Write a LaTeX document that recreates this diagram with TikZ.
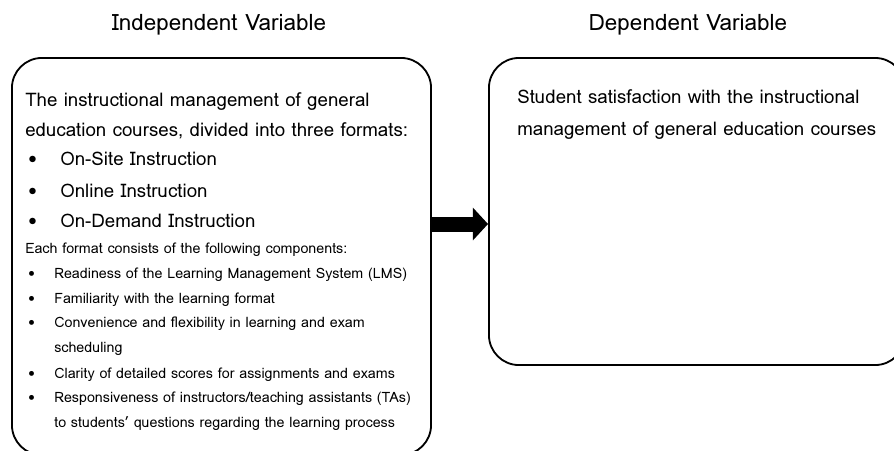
\documentclass[tikz,border=0pt]{standalone}
\usepackage{fontspec}
\setmainfont{Loma}
\usetikzlibrary{positioning,arrows.meta}

\tikzset{
  varbox/.style={draw, line width=1.3pt, rounded corners=0.75cm, inner sep=0pt},
  vartitle/.style={font=\fontsize{16}{18}\selectfont},
  bigtxt/.style={anchor=base west, inner sep=0pt, font=\fontsize{13.3}{15}\selectfont},
  smalltxt/.style={anchor=base west, inner sep=0pt, font=\fontsize{10.15}{12}\selectfont},
  bigarrow/.style={line width=3.75mm, -{Triangle[length=3.8mm,width=8mm]}}
}

\begin{document}
\begin{tikzpicture}[x=0.025cm,y=-0.025cm]
	\useasboundingbox (0,0) rectangle (894,450);
	\clip (0,0) rectangle (894,450);

	% the two boxes
	\node[varbox, minimum width=10.475cm, minimum height=9.925cm] (ivbox) at (221.5,256.5) {};
	\node[varbox, minimum width=10.4cm, minimum height=7.675cm] (dvbox) at (697,211.5) {};
	\node[vartitle] (ivtitle) at (219,25) {Independent Variable};
	\node[vartitle] (dvtitle) at (688,25) {Dependent Variable};

	% independent side
	\node[bigtxt] (iv1) at (25,106) {The instructional management of general};
	\node[bigtxt] (iv2) at (25,136) {education courses, divided into three formats:};
	\foreach \y/\txt [count=\i] in {165/On-Site Instruction, 197/Online Instruction, 227/On-Demand Instruction}{
		\node[bigtxt] (fmtdot\i) at (28,\y) {\textbullet};
		\node[bigtxt] (fmt\i) at (60,\y) {\txt};
	}
	\node[smalltxt] (each) at (25,253) {Each format consists of the following components:};
	\foreach \y/\txt [count=\i] in {278/{Readiness of the Learning Management System (LMS)},
	                                303/{Familiarity with the learning format},
	                                327/{Convenience and flexibility in learning and exam},
	                                378/{Clarity of detailed scores for assignments and exams},
	                                402/{Responsiveness of instructors/teaching assistants (TAs)}}{
		\node[smalltxt] (compdot\i) at (28,\y) {\textbullet};
		\node[smalltxt] (comp\i) at (54,\y) {\txt};
	}
	\node[smalltxt] (comp3b) at (54,352) {scheduling};
	\node[smalltxt] (comp5b) at (54,427) {to students' questions regarding the learning process};

	% dependent side
	\node[bigtxt] (dv1) at (517,103) {Student satisfaction with the instructional};
	\node[bigtxt] (dv2) at (517,135) {management of general education courses};

	\coordinate (arrowy) at (0,224);
	\draw[bigarrow] (ivbox.east |- arrowy) -- (dvbox.west |- arrowy);
\end{tikzpicture}
\end{document}
